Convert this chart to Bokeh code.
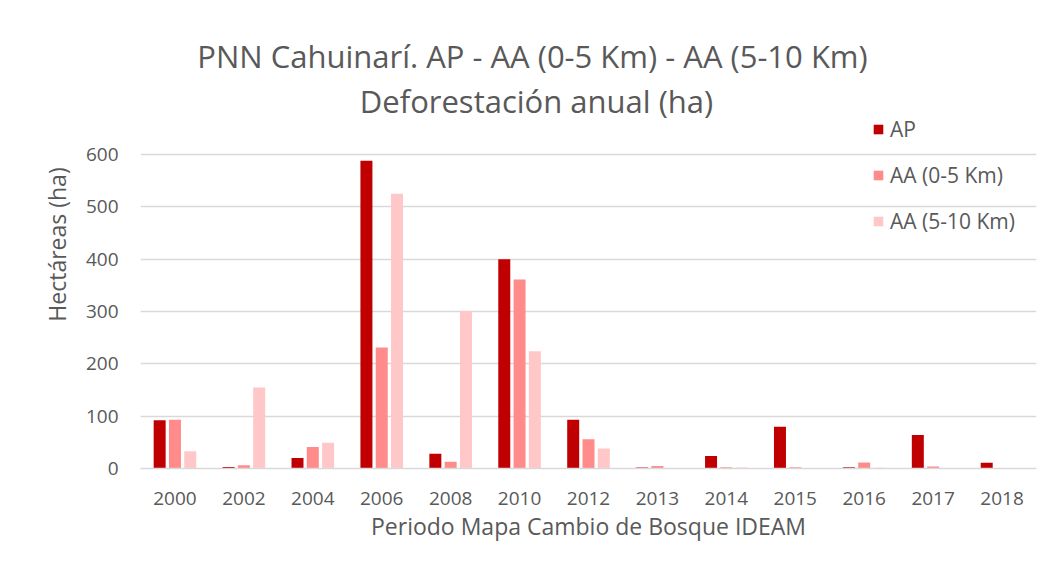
from bokeh.plotting import figure
from bokeh.models import FactorRange, Legend, LegendItem, Label, FixedTicker, ColumnDataSource
from bokeh.transform import dodge
from bokeh.embed import file_html
from bokeh.resources import INLINE

years = ["2000", "2002", "2004", "2006", "2008", "2010", "2012", "2013", "2014", "2015", "2016", "2017", "2018"]
ap = [92, 3, 20, 588, 28, 400, 93, 2, 24, 80, 2.5, 64, 11]
aa_0_5 = [93, 6, 41, 231, 13, 361, 56, 5, 2.5, 2.5, 11.5, 4, 1]
aa_5_10 = [33, 155, 49, 525, 301, 224, 38, 1, 2, 1, 1.5, 0.5, 0.5]
series_names = ["AP", "AA (0-5 Km)", "AA (5-10 Km)"]
y_ticks = [0, 100, 200, 300, 400, 500, 600]

FONT = "Open Sans"
TXT = "#595959"
GRID = "#D9D9D9"

src = ColumnDataSource(dict(year=years, ap=ap, aa05=aa_0_5, aa510=aa_5_10))

W, H = 1045, 575
p = figure(x_range=FactorRange(*years, range_padding=0), y_range=(0, 856),
           width=W, height=H, output_backend="svg", toolbar_location=None,
           min_border_left=140, min_border_right=9, min_border_top=20, min_border_bottom=107)
p.outline_line_color = None
p.xgrid.grid_line_color = None
p.ygrid.grid_line_color = GRID
p.ygrid.grid_line_width = 1.3
p.yaxis.ticker = FixedTicker(ticks=y_ticks)

bw = 0.174
off = 0.222
r1 = p.vbar(x=dodge("year", -off, range=p.x_range), top="ap", width=bw, source=src,
            fill_color="#C00000", line_color=None)
r2 = p.vbar(x=dodge("year", 0, range=p.x_range), top="aa05", width=bw, source=src,
            fill_color="#FF8B8B", line_color=None)
r3 = p.vbar(x=dodge("year", off, range=p.x_range), top="aa510", width=bw, source=src,
            fill_color="#FFC7C7", line_color=None)

for ax in (p.xaxis[0], p.yaxis[0]):
    ax.major_tick_line_color = None
    ax.minor_tick_line_color = None
    ax.major_label_text_font = FONT
    ax.major_label_text_color = TXT
    ax.major_label_text_font_size = "19px"
    ax.axis_label_text_font = FONT
    ax.axis_label_text_color = TXT
    ax.axis_label_text_font_size = "23px"
    ax.axis_label_text_font_style = "normal"
p.yaxis.axis_line_color = None
p.xaxis.axis_line_color = GRID
p.xaxis.axis_line_width = 1.3
p.yaxis.major_label_standoff = 16
p.xaxis.major_label_standoff = 17
p.xaxis.axis_label = "Periodo Mapa Cambio de Bosque IDEAM"
p.yaxis.axis_label = "Hectáreas (ha)"
p.xaxis.axis_label_standoff = 2
p.yaxis.axis_label_standoff = 10

legend = Legend(items=[LegendItem(label=series_names[0], renderers=[r1]),
                       LegendItem(label=series_names[1], renderers=[r2]),
                       LegendItem(label=series_names[2], renderers=[r3])],
                location=(732, 233), orientation="vertical",
                background_fill_alpha=0, border_line_color=None,
                glyph_width=12, glyph_height=12, label_standoff=6,
                label_text_font=FONT, label_text_color=TXT, label_text_font_size="21px",
                label_height=20, spacing=18, padding=0, margin=0)
p.add_layout(legend, "center")

for txt, y in [("PNN Cahuinarí.  AP - AA (0-5 Km) - AA (5-10 Km)", 413),
               ("Deforestación anual (ha)", 368)]:
    p.add_layout(Label(x=396, y=y, x_units="screen", y_units="screen", text=txt,
                       text_align="center", text_baseline="middle", text_font=FONT,
                       text_font_size="31px", text_color=TXT))

open("out.html", "w").write(file_html(p, INLINE))
